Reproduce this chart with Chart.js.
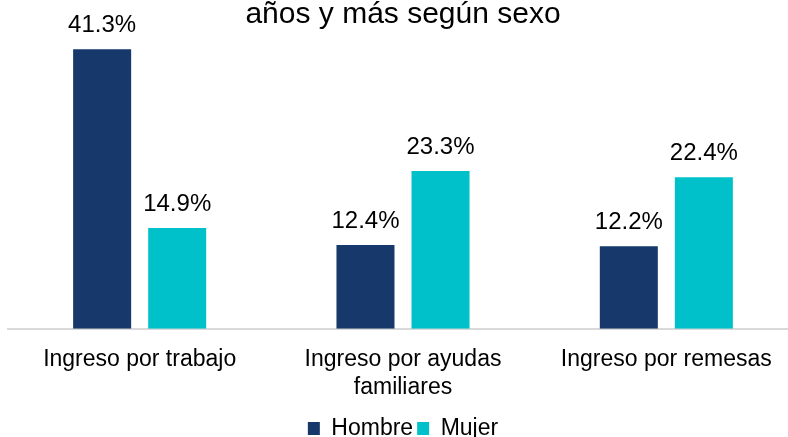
<!DOCTYPE html>
<html>
<head>
<meta charset="utf-8">
<script src="https://cdn.jsdelivr.net/npm/chart.js@4"></script>
<style>
  html, body { margin: 0; padding: 0; background: #fff; overflow: hidden; }
  #wrap { position: relative; width: 816px; height: 450px; }
</style>
</head>
<body>
<div id="wrap"><canvas id="chart"></canvas></div>
<script>
const categories = [['Ingreso por trabajo'], ['Ingreso por ayudas', 'familiares'], ['Ingreso por remesas']];
const hombre = [41.3, 12.4, 12.2];
const mujer = [14.9, 23.3, 22.4];
const seriesNames = ['Hombre', 'Mujer'];
const titleText = 'años y más según sexo';

const NAVY = '#17386a';
const TEAL = '#00c1c9';
const FONT = "'Liberation Sans', Arial, sans-serif";

// value labels above each bar
const barLabels = {
  id: 'barLabels',
  afterDatasetsDraw(chart) {
    const ctx = chart.ctx;
    ctx.save();
    ctx.font = '24px ' + FONT;
    ctx.fillStyle = '#000';
    ctx.textAlign = 'center';
    ctx.textBaseline = 'alphabetic';
    chart.data.datasets.forEach((ds, i) => {
      chart.getDatasetMeta(i).data.forEach((bar, j) => {
        ctx.fillText(ds.data[j].toFixed(1) + '%', bar.x, bar.y - 17);
      });
    });
    ctx.restore();
  }
};

const ctx = document.getElementById('chart').getContext('2d');
new Chart(ctx, {
  type: 'bar',
  data: {
    labels: categories,
    datasets: [
      { label: seriesNames[0], data: hombre, backgroundColor: NAVY },
      { label: seriesNames[1], data: mujer, backgroundColor: TEAL },
    ],
  },
  options: {
    responsive: true,
    maintainAspectRatio: false,
    animation: false,
    categoryPercentage: 0.57,
    barPercentage: 0.773,
    layout: { padding: { left: 8, right: 18, top: 0, bottom: 0 } },
    plugins: {
      title: {
        display: true,
        text: titleText,
        color: '#000',
        font: { family: FONT, size: 30, weight: 'normal', lineHeight: 1 },
        padding: { top: 0, bottom: -1 },
      },
      legend: {
        position: 'bottom',
        labels: {
          color: '#000',
          font: { family: FONT, size: 23 },
          boxWidth: 12,
          boxHeight: 13,
          padding: 4,
        },
      },
      tooltip: { enabled: false },
    },
    scales: {
      x: {
        grid: { display: false, drawTicks: false },
        border: { display: true, color: '#d9d9d9', width: 2 },
        ticks: {
          color: '#000',
          font: { family: FONT, size: 23 },
          padding: 17,
          maxRotation: 0,
          autoSkip: false,
        },
        afterFit(scale) { scale.height -= 5; },
      },
      y: {
        display: false,
        min: 0,
        max: 44.3,
      },
    },
  },
  plugins: [barLabels],
});
</script>
</body>
</html>
